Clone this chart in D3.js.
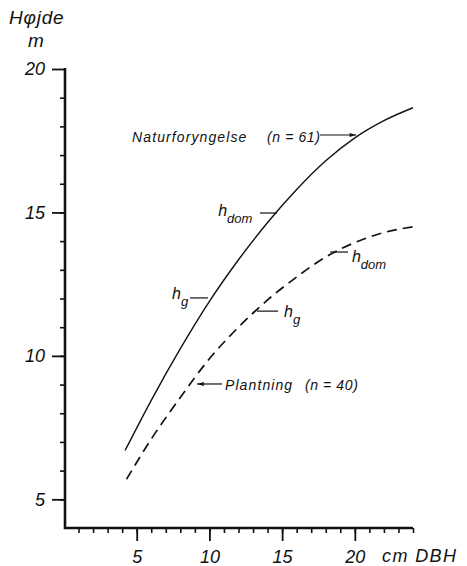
<!DOCTYPE html>
<html>
<head>
<meta charset="utf-8">
<script src="https://cdn.jsdelivr.net/npm/d3@7"></script>
<style>
  body { margin: 0; background: #fff; }
  svg text { font-family: "Liberation Sans", Arial, sans-serif; font-style: italic; fill: #111; }
</style>
</head>
<body>
<div id="chart"></div>
<script>
// diameter (cm DBH) and height (m)
const dbhNatur = [4.2, 6, 8, 10, 12, 14, 16, 18, 20, 22, 24];
const hNatur = [6.7, 8.45, 10.25, 11.9, 13.35, 14.65, 15.8, 16.8, 17.6, 18.2, 18.65];
const dbhPlant = [4.3, 6, 8, 10, 12, 14, 16, 18, 20, 22, 24];
const hPlant = [5.7, 7.1, 8.55, 9.9, 11.0, 11.95, 12.75, 13.45, 13.95, 14.3, 14.5];

const xMajor = [5, 10, 15, 20];
const yMajor = [5, 10, 15, 20];

// label text and where it sits, in data units
const seriesLabels = [
    { name: "Naturforyngelse", n: "(n = 61)", x: 4.68, nx: 13.96, y: 17.46, ax0: 17.6, ax1: 20.1, ay: 17.7 },
    { name: "Plantning", n: "(n = 40)", x: 11.07, nx: 16.57, y: 8.8, ax0: 10.87, ax1: 9.15, ay: 9.02 }
];
const heightMarks = [
    { sub: "dom", x0: 13.48, x1: 14.65, y: 14.98, tx: 10.6, ty: 14.88 },
    { sub: "g", x0: 8.67, x1: 9.9, y: 12.02, tx: 7.43, ty: 11.98 },
    { sub: "dom", x0: 18.3, x1: 19.53, y: 13.62, tx: 19.8, ty: 13.26 },
    { sub: "g", x0: 13.27, x1: 14.72, y: 11.56, tx: 15.13, ty: 11.35 }
];

(function () {
    const w = 467, h = 566;

    const svg = d3.select("#chart")
        .append("svg")
        .attr("width", w)
        .attr("height", h);

    const xScale = d3.scaleLinear().domain([0, 24]).range([64, 413]);
    const yScale = d3.scaleLinear().domain([4, 20]).range([528, 69]);

    const defs = svg.append("defs");
    defs.append("marker")
        .attr("id", "arrow")
        .attr("viewBox", "0 0 10 6")
        .attr("refX", 10).attr("refY", 3)
        .attr("markerWidth", 7).attr("markerHeight", 4)
        .attr("markerUnits", "userSpaceOnUse")
        .attr("orient", "auto")
        .append("path")
        .attr("d", "M0,0L10,3L0,6Z")
        .attr("fill", "#111");

    // minor ticks
    svg.append("g")
        .attr("transform", "translate(0,528)")
        .call(d3.axisBottom(xScale).tickValues(d3.range(1, 25)).tickSize(5).tickFormat(""))
        .call(g => g.select(".domain").remove())
        .call(g => g.selectAll("line").attr("stroke", "#111").attr("stroke-width", 1.6));
    svg.append("g")
        .attr("transform", "translate(65,0)")
        .call(d3.axisLeft(yScale).tickValues(d3.range(5, 20)).tickSize(5).tickFormat(""))
        .call(g => g.select(".domain").remove())
        .call(g => g.selectAll("line").attr("stroke", "#111").attr("stroke-width", 1.6));

    // major ticks + labels
    const xAxis = svg.append("g")
        .attr("transform", "translate(0,528)")
        .call(d3.axisBottom(xScale).tickValues(xMajor).tickSize(13).tickPadding(9).tickSizeOuter(0));
    const yAxis = svg.append("g")
        .attr("transform", "translate(65,0)")
        .call(d3.axisLeft(yScale).tickValues(yMajor).tickSize(13).tickPadding(7).tickSizeOuter(0));

    [xAxis, yAxis].forEach(a => {
        a.select(".domain").remove();
        a.selectAll("line").attr("stroke", "#111").attr("stroke-width", 1.8);
        a.selectAll("text")
            .attr("fill", "#111")
            .style("font-size", "18px")
            .style("font-family", "'Liberation Sans', Arial, sans-serif")
            .style("font-style", "italic");
    });

    // axis lines
    svg.append("path")
        .attr("d", `M${xScale(0) + 1},${yScale(20) - 1}V${yScale(4)}H${xScale(24)}`)
        .attr("fill", "none")
        .attr("stroke", "#111")
        .attr("stroke-width", 2.6);

    // axis titles
    svg.append("text").attr("x", 9).attr("y", 24).style("font-size", "19px")
        .attr("letter-spacing", 0.8).text("Hφjde");
    svg.append("text").attr("x", 28).attr("y", 47).style("font-size", "19px").text("m");
    svg.append("text").attr("x", 382).attr("y", 562).style("font-size", "18px")
        .attr("letter-spacing", 1.4).text("cm DBH");

    // curves
    const line = d3.line()
        .x(d => xScale(d[0]))
        .y(d => yScale(d[1]))
        .curve(d3.curveMonotoneX);

    svg.append("path")
        .datum(d3.zip(dbhNatur, hNatur))
        .attr("d", line)
        .attr("fill", "none")
        .attr("stroke", "#111")
        .attr("stroke-width", 1.4);

    svg.append("path")
        .datum(d3.zip(dbhPlant, hPlant))
        .attr("d", line)
        .attr("fill", "none")
        .attr("stroke", "#111")
        .attr("stroke-width", 1.7)
        .attr("stroke-dasharray", "10,6");

    // series labels with arrows
    seriesLabels.forEach(s => {
        svg.append("text")
            .attr("x", xScale(s.x)).attr("y", yScale(s.y))
            .style("font-size", "14px").attr("letter-spacing", 1.1)
            .text(s.name);
        svg.append("text")
            .attr("x", xScale(s.nx)).attr("y", yScale(s.y))
            .style("font-size", "14px").attr("letter-spacing", 0.6)
            .text(s.n);
        svg.append("line")
            .attr("x1", xScale(s.ax0)).attr("x2", xScale(s.ax1))
            .attr("y1", yScale(s.ay)).attr("y2", yScale(s.ay))
            .attr("stroke", "#111").attr("stroke-width", 1.2)
            .attr("marker-end", "url(#arrow)");
    });

    // h_dom / h_g markers
    heightMarks.forEach(m => {
        svg.append("line")
            .attr("x1", xScale(m.x0)).attr("x2", xScale(m.x1))
            .attr("y1", yScale(m.y)).attr("y2", yScale(m.y))
            .attr("stroke", "#111").attr("stroke-width", 1.2);
        const t = svg.append("text")
            .attr("x", xScale(m.tx)).attr("y", yScale(m.ty))
            .style("font-size", "16px");
        t.append("tspan").text("h");
        t.append("tspan").attr("dy", 7).style("font-size", "13px").text(m.sub);
    });
})();
</script>
</body>
</html>
